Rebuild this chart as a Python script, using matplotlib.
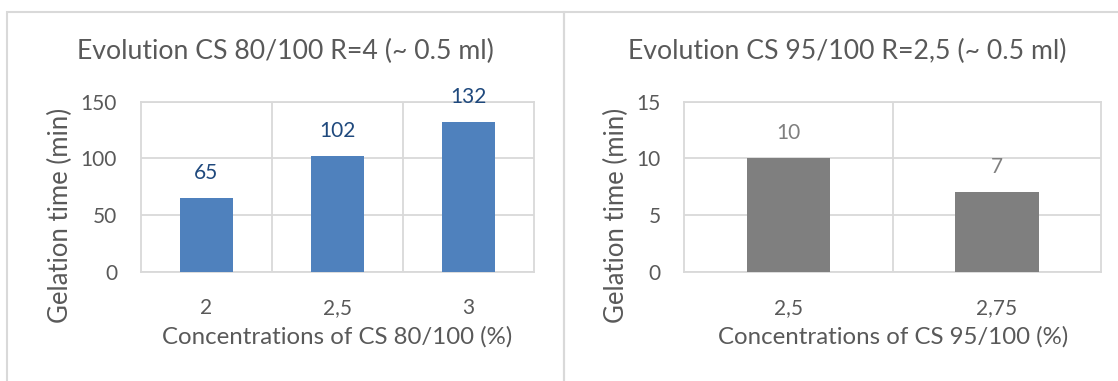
import matplotlib
matplotlib.use("Agg")
import matplotlib.pyplot as plt
from matplotlib.patches import Rectangle

plt.rcParams['font.family'] = ['Lato', 'DejaVu Sans']

# Data
cats_left = ["2", "2,5", "3"]
vals_left = [65, 102, 132]
cats_right = ["2,5", "2,75"]
vals_right = [10, 7]

title_left = "Evolution CS 80/100 R=4 (~ 0.5 ml)"
title_right = "Evolution CS 95/100 R=2,5 (~ 0.5 ml)"
xlabel_left = "Concentrations of CS 80/100 (%)"
xlabel_right = "Concentrations of CS 95/100 (%)"
ylabel = "Gelation time (min)"

W, H = 1118, 381
fig = plt.figure(figsize=(W / 100, H / 100), dpi=100)

TEXT = "#595959"
GRID = "#D9D9D9"

def px_rect(x0, x1, ytop, ybot):
    return [x0 / W, 1 - ybot / H, (x1 - x0) / W, (ybot - ytop) / H]

# panel borders
fig.patches.append(Rectangle((7.3 / W, -0.1), (563.5 - 7.3) / W, (1 - 12.3 / H) + 0.1,
                             transform=fig.transFigure, fill=False, ec=GRID, lw=1.5))
fig.patches.append(Rectangle((563.5 / W, -0.1), 0.6, (1 - 12.3 / H) + 0.1,
                             transform=fig.transFigure, fill=False, ec=GRID, lw=1.5))


def make(ax, cats, vals, ymax, ystep, color, lblcolor, title, xlabel, title_cx, ylab_x, fmt):
    x = list(range(len(cats)))
    ax.bar(x, vals, width=0.4, color=color, zorder=3)
    ax.set_xlim(-0.5, len(cats) - 0.5)
    ax.set_ylim(0, ymax)
    ax.set_yticks(list(range(0, ymax + 1, ystep)))
    ax.set_xticks(x)
    ax.set_xticklabels(cats)
    ax.set_xticks([i + 0.5 for i in x[:-1]], minor=True)
    ax.grid(True, axis='y', color=GRID, lw=1.3, zorder=0)
    ax.grid(True, axis='x', which='minor', color=GRID, lw=1.3, zorder=0)
    for s in ax.spines.values():
        s.set_color(GRID)
        s.set_linewidth(1.3)
    ax.tick_params(axis='both', which='both', length=0, labelsize=15, colors=TEXT)
    ax.tick_params(axis='y', pad=17)
    ax.tick_params(axis='x', pad=19)
    for xi, v in zip(x, vals):
        ax.annotate(fmt(v), (xi, v), xytext=(0, 18), textcoords='offset points',
                    ha='center', va='center', fontsize=15, color=lblcolor)
    ax.set_xlabel(xlabel, fontsize=17.3, color=TEXT, labelpad=6)
    fig.text(title_cx / W, 1 - 51 / H, title, ha='center', va='center', fontsize=19.2, color=TEXT)
    fig.text(ylab_x / W, 1 - 215 / H, ylabel, ha='center', va='center', rotation=90,
             fontsize=18.5, color=TEXT)


axL = fig.add_axes(px_rect(140.7, 534.3, 101.7, 271.7))
make(axL, cats_left, vals_left, 150, 50, "#4F81BD", "#1F497D", title_left, xlabel_left,
     285.5, 60, lambda v: f"{v}")

axR = fig.add_axes(px_rect(684.3, 1101.3, 101.7, 271.7))
make(axR, cats_right, vals_right, 15, 5, "#7F7F7F", "#7F7F7F", title_right, xlabel_right,
     847, 616, lambda v: f"{v}")

fig.savefig("out.png", dpi=100)
